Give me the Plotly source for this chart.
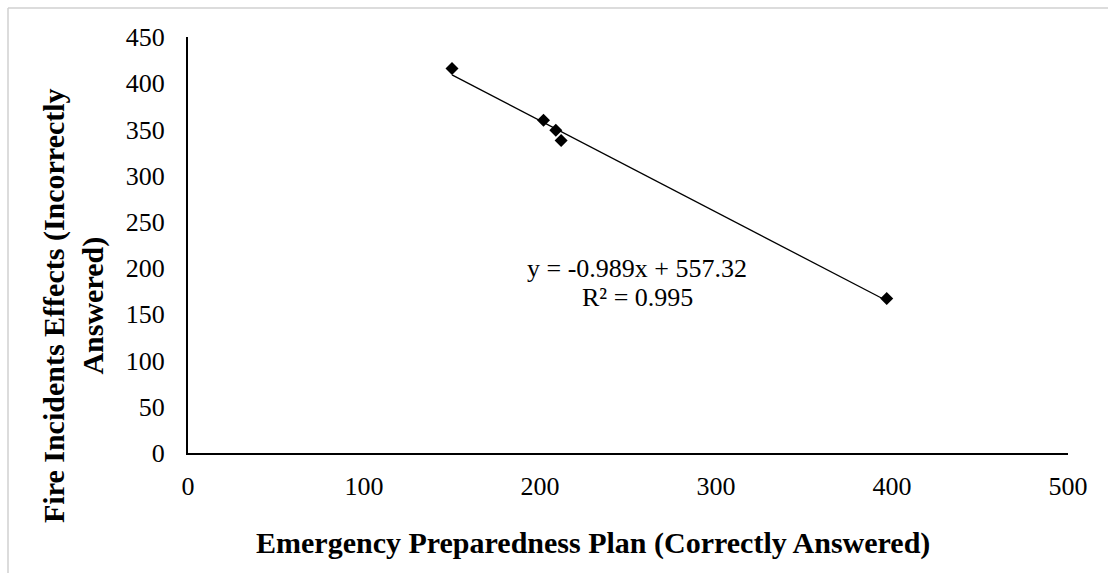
import plotly.graph_objects as go

# Data
x_correct = [150, 202, 209, 212, 397]
y_incorrect = [416, 360, 349, 338, 167]
slope = -0.989
intercept = 557.32
r2 = 0.995
x_ticks = [0, 100, 200, 300, 400, 500]
y_ticks = [0, 50, 100, 150, 200, 250, 300, 350, 400, 450]

W, H = 1108, 573
L, R, T, B = 188, 40, 37, 120
pw, ph = W - L - R, H - T - B

def px_x(p):
    return (p - L) / pw

def px_y(p):
    return (H - B - p) / ph

FONT = "Liberation Serif, Times New Roman, serif"

xmin, xmax = min(x_correct), max(x_correct)
trend_x = [xmin, xmax]
trend_y = [slope * v + intercept for v in trend_x]

fig = go.Figure()
fig.add_trace(go.Scatter(x=trend_x, y=trend_y, mode="lines",
                         line=dict(color="black", width=1.3), showlegend=False))
fig.add_trace(go.Scatter(x=x_correct, y=y_incorrect, mode="markers",
                         marker=dict(symbol="diamond", size=10, color="black"),
                         showlegend=False))

fig.update_layout(
    width=W, height=H,
    margin=dict(l=L, r=R, t=T, b=B),
    paper_bgcolor="white", plot_bgcolor="white",
    font=dict(family=FONT, color="black", size=26),
    xaxis=dict(range=[0, 500], tickvals=x_ticks, showgrid=False, zeroline=False,
               showline=True, linecolor="black", linewidth=2, ticks="",
               ticklabelstandoff=9, tickfont=dict(size=26)),
    yaxis=dict(range=[0, 450], tickvals=y_ticks, showgrid=False, zeroline=False,
               showline=True, linecolor="black", linewidth=2, ticks="",
               ticklabelstandoff=16, tickfont=dict(size=26)),
    shapes=[
        dict(type="line", xref="paper", yref="paper",
             x0=px_x(8), x1=px_x(W + 10), y0=px_y(8), y1=px_y(8),
             line=dict(color="#d0d0d0", width=1.5)),
        dict(type="line", xref="paper", yref="paper",
             x0=px_x(8), x1=px_x(8), y0=px_y(8), y1=px_y(H + 10),
             line=dict(color="#d0d0d0", width=1.5)),
    ],
    annotations=[
        dict(text=f"y = {slope}x + {intercept}", xref="paper", yref="paper",
             x=px_x(637), y=px_y(268), showarrow=False,
             xanchor="center", yanchor="middle", font=dict(size=26)),
        dict(text=f"R² = {r2}", xref="paper", yref="paper",
             x=px_x(637), y=px_y(297), showarrow=False,
             xanchor="center", yanchor="middle", font=dict(size=26)),
        dict(text="<b>Emergency Preparedness Plan (Correctly Answered)</b>",
             xref="paper", yref="paper", x=px_x(593), y=px_y(543),
             showarrow=False, xanchor="center", yanchor="middle",
             font=dict(size=30)),
        dict(text="<b>Fire Incidents Effects (Incorrectly<br>Answered)</b>",
             xref="paper", yref="paper", x=px_x(73), y=px_y(306),
             showarrow=False, xanchor="center", yanchor="middle",
             textangle=-90, font=dict(size=30)),
    ],
)

fig.write_html("out.html")
